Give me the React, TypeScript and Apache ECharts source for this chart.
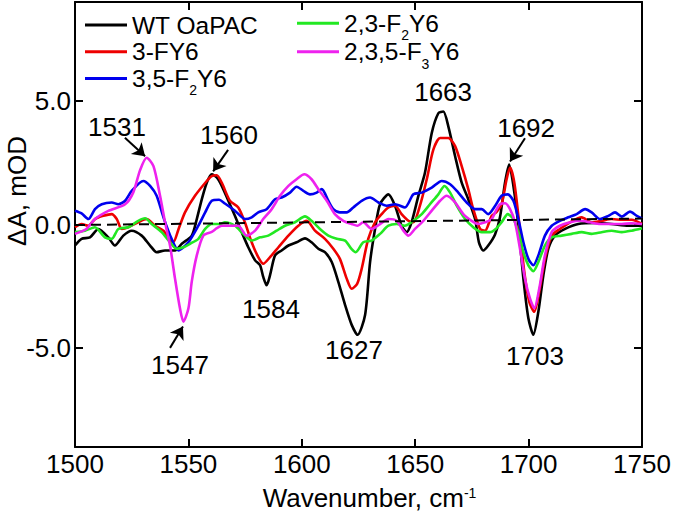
import React, { useEffect, useRef } from 'react';
import * as echarts from 'echarts';

const FONT = 'Liberation Sans, Arial, sans-serif';

const seriesNames = ['WT OaPAC', '3-FY6', '3,5-F₂Y6', '2,3-F₂Y6', '2,3,5-F₃Y6'];
const seriesColors = ['#000000', '#ee0000', '#0000ee', '#22e822', '#ee22ee'];

const wtData: [number, number][] = [
  [1500,-0.85],[1502.9,-0.58],[1506.6,-0.52],[1510.3,-0.18],[1514.7,-0.52],[1517.6,-0.85],[1521.3,-0.45],[1525,-0.25],[1529.4,-0.45],[1533.1,-0.85],[1536,-1.12],[1539.7,-1.05],[1544.1,-1.05],[1547.1,-0.78],[1551.5,-0.45],[1553.7,0.22],[1555.9,1.02],[1558.1,1.69],[1560.3,2.03],[1562.5,1.9],[1564.7,1.56],[1567.6,0.96],[1570.5,0.35],[1573.5,-0.31],[1576.4,-0.92],[1579.4,-1.45],[1581.6,-1.65],[1583,-2.12],[1584.5,-2.46],[1586,-2.05],[1588.2,-1.25],[1591.1,-1.05],[1594.1,-0.85],[1597.7,-0.72],[1601.4,-0.56],[1604.3,-0.72],[1607.3,-0.98],[1610.2,-1.12],[1613.2,-1.52],[1616.1,-2.32],[1619.1,-3.26],[1622,-4.06],[1624.6,-4.46],[1627.9,-3.66],[1630.1,-1.52],[1632.3,-0.18],[1634.5,0.82],[1638.2,1.22],[1641.1,0.76],[1644,-0.05],[1646.2,-0.31],[1648.4,0.09],[1651.4,1.16],[1654.3,2.09],[1657.3,3.7],[1660.2,4.5],[1662.4,4.57],[1664.6,3.97],[1667.6,2.76],[1670.5,1.69],[1673.4,1.02],[1676.4,0.22],[1678.1,-0.72],[1680,-1.05],[1682.2,-0.85],[1685.2,-0.4],[1687.4,0.3],[1689.6,1.69],[1691.4,2.43],[1693.3,1.56],[1695.5,-0.05],[1697.7,-2.19],[1699.9,-3.79],[1702.1,-4.46],[1704.3,-3.53],[1706.5,-2.06],[1708.7,-0.98],[1711.6,-0.45],[1716.1,-0.18],[1721.9,0.02],[1729.3,0.06],[1736.6,0.02],[1744,-0.05],[1750,-0.05]
];

const fy6Data: [number, number][] = [
  [1500,-0.11],[1502.9,0.02],[1505.9,-0.05],[1508.8,0.22],[1512.5,0.35],[1516.2,0.42],[1518.4,0.22],[1520.6,-0.18],[1523.5,-0.11],[1527.9,0.09],[1531.6,0.22],[1535.3,-0.05],[1539,-0.25],[1541.9,-0.65],[1543.4,-0.7],[1545.6,-0.2],[1548.5,0.49],[1552.9,1.16],[1558.1,1.76],[1560.3,1.96],[1562.5,1.99],[1564.7,1.69],[1568.3,0.96],[1572,0.69],[1574.9,0.09],[1577.9,-0.72],[1580.8,-1.32],[1583,-1.59],[1586,-1.32],[1589.7,-0.92],[1594.1,-0.45],[1598.5,-0.05],[1602.2,0.15],[1605.8,-0.25],[1610.2,-0.58],[1613.9,-0.98],[1616.8,-1.39],[1619.8,-2.19],[1622,-2.6],[1624.4,-2.4],[1626.4,-1.79],[1629.3,-0.58],[1632.3,0.09],[1635.2,0.42],[1638.2,0.69],[1641.1,0.76],[1644,0.42],[1647,0.15],[1649.2,0.09],[1652.1,0.76],[1655.1,1.83],[1658,3.03],[1661,3.5],[1664.6,3.5],[1667.6,3.17],[1670.5,2.36],[1673.4,1.43],[1675.6,0.62],[1678.6,-0.18],[1680.8,-0.25],[1683.7,0.35],[1685.8,0.5],[1688.1,0.82],[1690.3,1.83],[1691.8,2.3],[1693.7,1.69],[1695.8,0.09],[1698.1,-1.92],[1700.3,-3.13],[1702.5,-3.53],[1704.7,-2.72],[1707.2,-1.39],[1710.2,-0.45],[1713.8,-0.18],[1718.3,0.09],[1723.4,0.29],[1727.8,0.09],[1732.2,0.15],[1736.6,0.22],[1741.1,0.19],[1745.4,0.19],[1750,0.02]
];

const f2y6_35Data: [number, number][] = [
  [1500,0.56],[1502.9,0.45],[1505.9,0.22],[1508.8,0.62],[1511.8,0.82],[1516.2,0.89],[1519.1,0.82],[1522.1,0.96],[1525,1.36],[1530.1,1.76],[1533.1,1.56],[1536,1.16],[1539,0.29],[1542.6,-0.58],[1545.6,-1.05],[1550,-0.72],[1554.4,-0.05],[1557.4,0.49],[1560.3,0.96],[1563.5,1.0],[1566.1,0.85],[1570.5,0.56],[1575,0.22],[1577.9,0.29],[1580.8,0.49],[1584.5,0.62],[1588.2,1.02],[1591.1,1.09],[1594.8,1.29],[1597.7,1.53],[1600.7,1.36],[1603.6,1.22],[1606.6,1.29],[1608.8,1.43],[1611.7,0.96],[1613.9,0.62],[1616.8,0.49],[1619.8,0.49],[1622.7,0.69],[1626.4,0.96],[1630.1,1.09],[1633.8,0.89],[1637.4,0.76],[1641.1,0.82],[1645.5,0.69],[1649.2,1.22],[1652.9,1.29],[1657.3,1.49],[1661.7,1.76],[1665.4,1.63],[1669,1.29],[1672.7,0.89],[1676.4,0.62],[1679.3,0.62],[1682.2,0.42],[1685.2,0.75],[1688.1,1.16],[1690.8,1.22],[1693.3,0.96],[1695.5,0.22],[1697.7,-0.72],[1699.9,-1.39],[1702.1,-1.65],[1704.3,-1.25],[1707.2,-0.45],[1710.2,-0.05],[1713.8,0.15],[1717.5,0.29],[1721.2,0.42],[1724.9,0.62],[1727.8,0.49],[1731.5,0.22],[1735.2,0.35],[1738.1,0.49],[1741.1,0.32],[1744.7,0.52],[1747.7,0.35],[1750,0.25]
];

const f2y6_23Data: [number, number][] = [
  [1500,-0.31],[1504.4,-0.25],[1508.8,-0.11],[1513.2,-0.52],[1516.2,-0.58],[1519.1,-0.18],[1523.5,-0.11],[1527.9,0.15],[1530.9,0.25],[1533.8,0.02],[1538.2,-0.31],[1541.9,-0.72],[1544.8,-0.98],[1547.8,-0.92],[1550.7,-0.78],[1554.4,-0.58],[1557.4,-0.18],[1560.3,0.02],[1563.9,0.02],[1566.1,0.09],[1570.5,-0.05],[1574.2,-0.38],[1577.9,-0.65],[1581.6,-0.52],[1585.2,-0.45],[1588.9,-0.25],[1592.6,-0.05],[1597,0.09],[1601.4,0.33],[1604.3,0.15],[1608,-0.18],[1611.7,-0.45],[1615.4,-0.58],[1619.1,-0.65],[1622,-1.0],[1623.8,-1.12],[1627.1,-0.72],[1630.8,-0.65],[1634.5,-0.38],[1638.2,-0.05],[1641.8,0.02],[1645.5,-0.05],[1649.2,0.15],[1652.9,0.42],[1656.5,0.82],[1660.2,1.22],[1662.9,1.56],[1665.4,1.29],[1668.3,0.76],[1672,0.22],[1675.6,-0.11],[1679.3,-0.31],[1683,-0.31],[1685.5,-0.18],[1688.1,0.09],[1690.8,0.42],[1693.3,0.22],[1695.5,-0.31],[1697.7,-1.12],[1699.9,-1.65],[1702.1,-1.89],[1704.3,-1.52],[1707.2,-0.85],[1710.2,-0.52],[1714.6,-0.45],[1719,-0.38],[1723.4,-0.31],[1727.8,-0.38],[1732.2,-0.31],[1736.6,-0.25],[1741.1,-0.31],[1745.4,-0.25],[1750,-0.15]
];

const f3y6Data: [number, number][] = [
  [1500,-0.38],[1505,-0.18],[1508.8,0.22],[1514.7,0.55],[1522.1,0.82],[1525.7,1.3],[1528.7,2.2],[1531.6,2.7],[1534.6,2.36],[1537.5,1.16],[1539.7,0.09],[1541.9,-0.85],[1544.1,-2.19],[1546.3,-3.4],[1547.8,-3.93],[1550,-3.4],[1551.5,-2.3],[1553.7,-1.25],[1556.6,-0.45],[1560.3,-0.3],[1562.5,-0.15],[1564.7,-0.05],[1568.3,-0.05],[1572,-0.05],[1575.7,-0.45],[1579.4,-0.25],[1583,0.22],[1586.7,0.62],[1590.4,1.16],[1594.1,1.56],[1597.7,1.83],[1601.1,2.03],[1604.3,1.83],[1607.3,1.43],[1611,0.96],[1614.6,0.42],[1618.3,0.15],[1622,0.02],[1624.5,-0.05],[1627.1,0.09],[1630.8,-0.18],[1634.5,0.02],[1638.2,0.22],[1641.8,0.15],[1644.8,-0.25],[1647,-0.45],[1649.9,-0.18],[1653.6,0.15],[1657.3,0.56],[1661,0.96],[1663.9,1.16],[1667.6,0.89],[1671.2,0.42],[1674.9,0.15],[1677.8,0.02],[1680.8,0.09],[1683.7,0.22],[1685.6,0.56],[1687.4,0.82],[1689.6,0.86],[1691.8,0.62],[1694,0.09],[1696.2,-0.98],[1698.4,-2.19],[1700.6,-2.99],[1702.5,-3.39],[1704.7,-2.59],[1707.2,-1.25],[1710.2,-0.31],[1713.8,-0.05],[1718.3,0.09],[1722.7,0.15],[1727.1,0.09],[1731.5,0.02],[1735.9,0.02],[1741.1,0.02],[1745.4,0.05],[1750,0.02]
];

const seriesData = [wtData, fy6Data, f2y6_35Data, f2y6_23Data, f3y6Data];

const baselineData: [number, number][] = [[1500, -0.02], [1750, 0.24]];

const xMin = 1500;
const xMax = 1750;
const xStep = 50;
const yMin = -9;
const yMax = 9;
const yTickValues = [-5, 0, 5];

const peakLabels: { name: string; coord: [number, number] }[] = [
  { name: '1531', coord: [1518.5, 3.95] },
  { name: '1560', coord: [1567.9, 3.63] },
  { name: '1663', coord: [1662.3, 5.35] },
  { name: '1692', coord: [1698.9, 3.91] },
  { name: '1584', coord: [1586.4, -3.41] },
  { name: '1547', coord: [1546.3, -5.69] },
  { name: '1627', coord: [1623.0, -5.08] },
  { name: '1703', coord: [1702.8, -5.33] },
];

const arrowSegments: [[number, number], [number, number]][] = [
  [[1522.0, 3.51], [1530.9, 2.76]],
  [[1567.5, 3.02], [1560.9, 2.15]],
  [[1698.4, 3.49], [1691.8, 2.55]],
  [[1541.9, -4.99], [1547.6, -4.13]],
];

const subFormat = (name: string) =>
  name
    .split(/([₀-₉])/)
    .filter((p) => p.length > 0)
    .map((p) =>
      /[₀-₉]/.test(p)
        ? `{s|${String.fromCharCode(p.charCodeAt(0) - 0x2080 + 48)}}`
        : `{m|${p}}`
    )
    .join('');

export default function App() {
  const ref = useRef<HTMLDivElement>(null);

  useEffect(() => {
    document.body.style.margin = '0';
    if (!ref.current) return;
    const chart = echarts.init(ref.current, undefined, { renderer: 'svg' });

    const LH = 38;
    const legendText = {
      fontFamily: FONT,
      fontSize: 24.5,
      color: '#000',
      lineHeight: LH,
      rich: {
        m: { fontFamily: FONT, fontSize: 24.5, lineHeight: LH, verticalAlign: 'middle', color: '#000' },
        s: { fontFamily: FONT, fontSize: 14, lineHeight: LH, verticalAlign: 'bottom', color: '#000' },
      },
    };

    const axisLineStyle = { color: '#000', width: 2 };

    const yAxisBase = {
      type: 'value',
      min: yMin,
      max: yMax,
      splitLine: { show: false },
      axisLine: { show: true, onZero: false, lineStyle: axisLineStyle },
      axisTick: { show: true, inside: true, length: 8, lineStyle: axisLineStyle, customValues: yTickValues },
    };

    const xAxisBase = {
      type: 'value',
      min: xMin,
      max: xMax,
      interval: xStep,
      splitLine: { show: false },
      axisLine: { show: true, onZero: false, lineStyle: axisLineStyle },
      axisTick: { show: true, inside: true, length: 8, lineStyle: axisLineStyle },
    };

    const legendBase = {
      orient: 'vertical',
      padding: 0,
      itemWidth: 42,
      itemHeight: 3,
      icon: 'rect',
      selectedMode: false,
      formatter: subFormat,
      textStyle: legendText,
    };

    const option: any = {
      animation: false,
      backgroundColor: '#ffffff',
      grid: { left: 75, right: 33, top: 2, bottom: 69, containLabel: false },
      legend: [
        { ...legendBase, data: seriesNames.slice(0, 3), left: 85, top: 6, itemGap: 26.7 - LH },
        { ...legendBase, data: seriesNames.slice(3), left: 297, top: 4.3, itemGap: 28.4 - LH },
      ],
      xAxis: [
        {
          ...xAxisBase,
          position: 'bottom',
          axisLabel: {
            show: true,
            fontFamily: FONT,
            fontSize: 26,
            color: '#000',
            margin: 4,
            formatter: (v: number) => String(v),
          },
          name: '{m|Wavenumber, cm}{sup|-1}',
          nameLocation: 'middle',
          nameGap: 36,
          nameTextStyle: {
            fontFamily: FONT,
            fontSize: 26,
            color: '#000',
            lineHeight: 30,
            padding: [0, 0, 0, 22],
            rich: {
              m: { fontFamily: FONT, fontSize: 26, lineHeight: 30, color: '#000' },
              sup: { fontFamily: FONT, fontSize: 14, lineHeight: 1, padding: [0, 0, 10, 0], color: '#000' },
            },
          },
        },
        {
          ...xAxisBase,
          position: 'top',
          axisLabel: { show: false },
        },
      ],
      yAxis: [
        {
          ...yAxisBase,
          position: 'left',
          axisLabel: {
            show: true,
            customValues: yTickValues,
            fontFamily: FONT,
            fontSize: 26,
            color: '#000',
            margin: 4,
            formatter: (v: number) => v.toFixed(1),
          },
        },
        {
          ...yAxisBase,
          position: 'right',
          axisLabel: { show: false },
        },
      ],
      graphic: [
        {
          type: 'text',
          x: 17,
          y: 191,
          rotation: Math.PI / 2,
          style: {
            text: 'ΔA, mOD',
            fontFamily: FONT,
            fontSize: 26,
            fill: '#000',
            align: 'center',
            verticalAlign: 'middle',
          },
        },
      ],
      series: [
        ...seriesNames.map((name, i) => ({
          name,
          type: 'line',
          data: seriesData[i],
          xAxisIndex: 0,
          yAxisIndex: 0,
          showSymbol: false,
          symbol: 'none',
          smooth: 0.25,
          lineStyle: { color: seriesColors[i], width: 2.6 },
          itemStyle: { color: seriesColors[i] },
          emphasis: { disabled: true },
          z: 2 + i,
        })),
        {
          name: 'baseline',
          type: 'line',
          data: baselineData,
          xAxisIndex: 0,
          yAxisIndex: 0,
          showSymbol: false,
          symbol: 'none',
          lineStyle: { color: '#000', width: 2, type: [10, 6] },
          emphasis: { disabled: true },
          silent: true,
          z: 10,
          markPoint: {
            silent: true,
            symbol: 'circle',
            symbolSize: 1,
            itemStyle: { color: 'rgba(0,0,0,0)' },
            label: {
              show: true,
              position: 'inside',
              formatter: '{b}',
              color: '#000',
              fontFamily: FONT,
              fontSize: 26,
            },
            data: peakLabels.map((p) => ({ name: p.name, coord: p.coord })),
          },
          markLine: {
            silent: true,
            symbol: ['none', 'arrow'],
            symbolSize: 12,
            label: { show: false },
            lineStyle: { color: '#000', width: 2, type: 'solid' },
            emphasis: { disabled: true },
            data: arrowSegments.map((a) => [{ coord: a[0] }, { coord: a[1] }]),
          },
        },
      ],
    };

    chart.setOption(option);
    return () => {
      chart.dispose();
    };
  }, []);

  return <div ref={ref} style={{ width: 675, height: 518 }} />;
}
